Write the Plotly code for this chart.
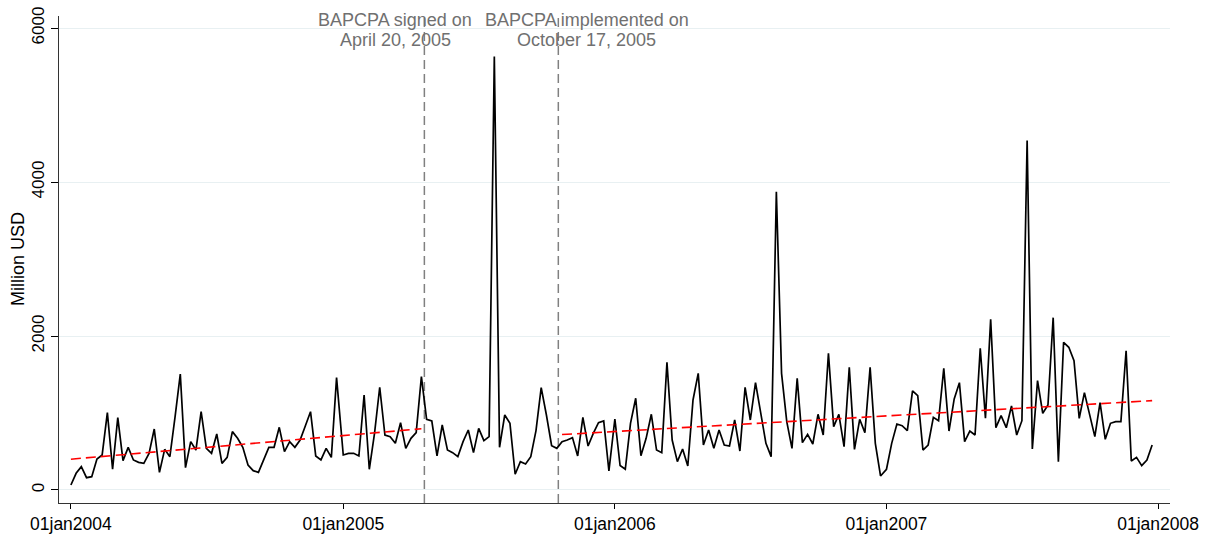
import pandas as pd
import plotly.graph_objects as go

# Weekly amounts (million USD), 52 weeks per year, 2004-2007
vals_2004 = [65, 217, 303, 160, 173, 403, 455, 1004, 269, 939, 381, 554, 390, 359, 346, 476,
             792, 229, 528, 433, 952, 1506, 290, 628, 519, 1017, 541, 476, 727, 346, 424, 758,
             671, 554, 325, 251, 229, 390, 554, 554, 814, 498, 628, 554, 649, 831, 1017, 442,
             390, 541, 424, 1459]
vals_2005 = [455, 476, 476, 442, 1234, 269, 736, 1334, 714, 693, 606, 874, 541, 671, 745, 1472,
             918, 896, 442, 844, 519, 485, 433, 628, 779, 485, 801, 641, 693, 5630, 554, 974,
             866, 204, 368, 338, 433, 771, 1329, 974, 576, 541, 628, 649, 680, 442, 944, 571,
             736, 874, 896, 247]
vals_2006 = [922, 318, 269, 866, 1191, 446, 671, 983, 519, 485, 1658, 649, 368, 532, 312, 1169,
             1515, 584, 779, 541, 779, 584, 571, 909, 506, 1334, 909, 1394, 974, 606, 433, 3874,
             1515, 887, 541, 1450, 615, 723, 597, 983, 714, 1775, 823, 983, 563, 1593, 528, 918,
             745, 1593, 606, 182]
vals_2007 = [269, 606, 857, 835, 771, 1286, 1225, 519, 584, 944, 900, 1580, 766, 1182, 1394, 628,
             766, 714, 1840, 931, 2217, 809, 965, 809, 1091, 714, 900, 4540, 532, 1420, 996, 1104,
             2238, 368, 1918, 1853, 1680, 931, 1264, 974, 693, 1134, 658, 866, 887, 887, 1809, 377,
             424, 316, 390, 584]
years = [2004, 2005, 2006, 2007]

# Linear trend endpoints before signing and after implementation
trend_pre_dates = ["2004-01-01", "2005-04-16"]
trend_pre_vals = [400, 795]
trend_post_dates = ["2005-10-22", "2007-12-24"]
trend_post_vals = [720, 1160]

# Event markers and their two-line labels
event_dates = ["2005-04-20", "2005-10-17"]
event_label_x = ["2005-03-12", "2005-11-24"]
event_line1 = ["BAPCPA signed on", "BAPCPA implemented on"]
event_line2 = ["April 20, 2005", "October 17, 2005"]

tick_dates = ["2004-01-01", "2005-01-01", "2006-01-01", "2007-01-01", "2008-01-01"]
tick_text = ["01jan2004", "01jan2005", "01jan2006", "01jan2007", "01jan2008"]
y_ticks = [0, 2000, 4000, 6000]

dates = []
values = []
for yr, vals in zip(years, [vals_2004, vals_2005, vals_2006, vals_2007]):
    start = pd.Timestamp(f"{yr}-01-01")
    for k, v in enumerate(vals):
        dates.append(start + pd.Timedelta(days=7 * k))
        values.append(v)

FONT = "Liberation Sans, Arial, Helvetica, sans-serif"
TOP = 16

fig = go.Figure()
fig.add_trace(go.Scatter(x=dates, y=values, mode="lines",
                         line=dict(color="black", width=1.7), showlegend=False))
fig.add_trace(go.Scatter(x=pd.to_datetime(trend_pre_dates), y=trend_pre_vals, mode="lines",
                         line=dict(color="#ff0000", width=1.6, dash="10px,5px"), showlegend=False))
fig.add_trace(go.Scatter(x=pd.to_datetime(trend_post_dates), y=trend_post_vals, mode="lines",
                         line=dict(color="#ff0000", width=1.6, dash="10px,5px"), showlegend=False))

for d in event_dates:
    fig.add_shape(type="line", xref="x", yref="paper", x0=d, x1=d, y0=0, y1=1,
                  line=dict(color="#808080", width=1.5, dash="9px,5px"), layer="below")

for xd, l1, l2 in zip(event_label_x, event_line1, event_line2):
    for txt, center_px in ((l1, 20), (l2, 40)):
        fig.add_annotation(x=xd, xref="x", y=1, yref="paper", yanchor="middle",
                           yshift=TOP - center_px, text=txt, showarrow=False,
                           font=dict(family=FONT, size=18, color="#707070"))

fig.add_annotation(text="Million USD", xref="paper", x=0, xshift=-41, xanchor="center",
                   yref="y", y=3000, yanchor="middle", textangle=-90, showarrow=False,
                   font=dict(family=FONT, size=18, color="black"))

fig.update_layout(
    width=1211, height=535,
    margin=dict(l=59, r=41, t=TOP, b=32),
    paper_bgcolor="white", plot_bgcolor="white",
    font=dict(family=FONT, size=16, color="black"),
    xaxis=dict(range=["2003-12-16", "2008-01-17"], tickvals=pd.to_datetime(tick_dates),
               ticktext=tick_text, ticks="outside", ticklen=5, tickcolor="black",
               showline=True, linecolor="#333333", linewidth=1.2, showgrid=False,
               zeroline=False, automargin=False, tickfont=dict(size=17.5)),
    yaxis=dict(range=[-169, 6156], tickvals=y_ticks, ticks="outside", ticklen=7,
               tickcolor="black", showline=True, linecolor="#333333", linewidth=1.2,
               showgrid=True, gridcolor="#e8f0f2", gridwidth=1, zeroline=False,
               automargin=False, tickangle=-90, tickfont=dict(size=17)),
)

fig.write_html("out.html")
